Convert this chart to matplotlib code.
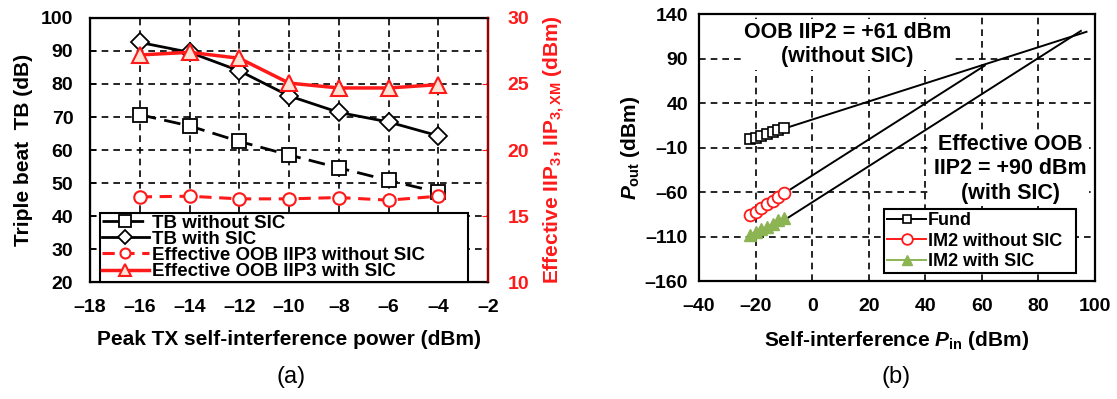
import numpy as np
import matplotlib
matplotlib.use('Agg')
import matplotlib.pyplot as plt

plt.rcParams['font.family'] = ['Liberation Sans', 'DejaVu Sans']
plt.rcParams['font.weight'] = 'bold'
plt.rcParams['axes.labelweight'] = 'bold'
plt.rcParams['mathtext.fontset'] = 'custom'
plt.rcParams['mathtext.rm'] = 'Liberation Sans:bold'
plt.rcParams['mathtext.it'] = 'Liberation Sans:italic:bold'
plt.rcParams['mathtext.bf'] = 'Liberation Sans:bold'
plt.rcParams['mathtext.default'] = 'rm'

# ---- panel (a) data ----
tx_power = [-16, -14, -12, -10, -8, -6, -4]
tb_without_sic = [70.7, 67.3, 62.6, 58.5, 54.6, 50.8, 47.2]
tb_with_sic = [92.6, 89.6, 84.0, 76.4, 71.4, 68.5, 64.3]
iip3_without_sic = [16.45, 16.5, 16.3, 16.3, 16.4, 16.2, 16.5]
iip3_with_sic = [27.2, 27.4, 26.95, 25.07, 24.7, 24.7, 24.95]

# ---- panel (b) data ----
pin = [-22, -20, -18, -16, -14, -12, -10]
fund = [-1, 1, 3, 5, 7.5, 9.5, 12]
im2_without_sic = [-86, -82, -78, -74, -70, -65.5, -61]
im2_with_sic = [-108, -105, -102, -99, -96, -92, -89]
# extrapolated fit lines (end points)
fund_fit_x, fund_fit_y = [-22, 97], [-1, 120]
im2_wo_fit_x, im2_wo_fit_y = [-22, 61], [-86, 82]
im2_w_fit_x, im2_w_fit_y = [-15.5, 95], [-103, 121]

RED = '#ff1a1a'
GREEN = '#8cb453'
TRI_FILL = '#fde3d3'
grid_kw = dict(color='black', linestyle=(0, (4, 3)), linewidth=1.2)

fig = plt.figure(figsize=(11.17, 3.99), dpi=100)

# ================= (a) =================
ax1 = fig.add_axes([0.0806, 0.2932, 0.3563, 0.6617])
ax1.plot(tx_power, tb_without_sic, color='black', lw=2, linestyle=(0, (6, 3)),
         marker='s', ms=10, mfc='white', mec='black', mew=1.3, label='TB without SIC')
ax1.plot(tx_power, tb_with_sic, color='black', lw=2,
         marker='D', ms=9, mfc='white', mec='black', mew=1.3, label='TB with SIC')
ax1.set_xlim(-18, -2)
ax1.set_ylim(20, 100)
ax1.set_xticks(np.arange(-18, -1, 2))
ax1.set_yticks(np.arange(20, 101, 10))
ax1.set_xticklabels(['\u201318', '\u201316', '\u201314', '\u201312', '\u201310',
                     '\u20138', '\u20136', '\u20134', '\u20132'])
for v in range(-16, -3, 2):
    ax1.axvline(v, **grid_kw, zorder=0.5)
for v in range(30, 100, 10):
    ax1.axhline(v, **grid_kw, zorder=0.5)
ax1.tick_params(axis='both', labelsize=14, direction='in', length=4, width=1.2)
ax1.tick_params(axis='x', length=0, pad=12)
ax1.tick_params(axis='y', pad=12)
for s in ax1.spines.values():
    s.set_linewidth(1.6)
ax1.set_xlabel('Peak TX self-interference power (dBm)', fontsize=15, labelpad=10)
ax1.set_ylabel('Triple beat  TB (dB)', fontsize=15, labelpad=6)

ax1r = ax1.twinx()
ax1r.plot(tx_power, iip3_without_sic, color=RED, lw=2.2, linestyle=(0, (4, 2.5)),
          marker='o', ms=9, mfc='white', mec=RED, mew=1.5,
          label='Effective OOB IIP3 without SIC')
ax1r.plot(tx_power, iip3_with_sic, color=RED, lw=2.5,
          marker='^', ms=11, mfc=TRI_FILL, mec=RED, mew=1.5,
          label='Effective OOB IIP3 with SIC')
ax1r.set_ylim(10, 30)
ax1r.set_yticks([10, 15, 20, 25, 30])
ax1r.tick_params(axis='y', labelsize=14, colors=RED, direction='in', length=4, pad=14)
ax1r.spines['right'].set_color('#a00000')
ax1r.spines['right'].set_linewidth(1.6)
ax1r.set_ylabel('Effective IIP$_3$, IIP$_{3,\\mathrm{XM}}$ (dBm)', fontsize=15,
                color=RED, labelpad=9)

h1, l1 = ax1.get_legend_handles_labels()
h2, l2 = ax1r.get_legend_handles_labels()
leg = ax1r.legend(h1 + h2, l1 + l2, loc='lower left', bbox_to_anchor=(0.025, 0.0, 0.925, 0.285),
                  mode='expand', borderaxespad=0, fontsize=13.5, handlelength=2.5,
                  labelspacing=-0.05, borderpad=0.1, handletextpad=0.2, fancybox=False,
                  framealpha=1, edgecolor='black', markerscale=0.8)
leg.get_frame().set_linewidth(1.5)

fig.text(0.261, 0.055, '(a)', ha='center', va='center', fontsize=17, fontweight='normal')

# ================= (b) =================
ax2 = fig.add_axes([0.6258, 0.2957, 0.3545, 0.6692])
ax2.plot(fund_fit_x, fund_fit_y, color='black', lw=1.4, zorder=2)
ax2.plot(im2_wo_fit_x, im2_wo_fit_y, color='black', lw=1.4, zorder=2)
ax2.plot(im2_w_fit_x, im2_w_fit_y, color='black', lw=1.4, zorder=2)
ax2.plot(pin, fund, color='black', lw=1.4, marker='s', ms=7, mfc='white',
         mec='black', mew=1.2, label='Fund', zorder=3)
ax2.plot(pin, im2_without_sic, color=RED, lw=1.4, marker='o', ms=8.5, mfc='white',
         mec=RED, mew=1.3, label='IM2 without SIC', zorder=3)
ax2.plot(pin, im2_with_sic, color=GREEN, lw=1.4, marker='^', ms=8, mfc=GREEN,
         mec=GREEN, label='IM2 with SIC', zorder=3)
ax2.set_xlim(-40, 100)
ax2.set_ylim(-160, 140)
ax2.set_xticks(np.arange(-40, 101, 20))
ax2.set_yticks(np.arange(-160, 141, 50))
ax2.set_xticklabels(['\u201340', '\u201320', '0', '20', '40', '60', '80', '100'])
ax2.set_yticklabels(['\u2013160', '\u2013110', '\u201360', '\u201310', '40', '90', '140'])
for v in range(-20, 81, 20):
    ax2.axvline(v, **grid_kw, zorder=0.5)
for v in range(-110, 91, 50):
    ax2.axhline(v, **grid_kw, zorder=0.5)
ax2.tick_params(axis='both', labelsize=14, length=0)
ax2.tick_params(axis='x', pad=12)
ax2.tick_params(axis='y', pad=8)
for s in ax2.spines.values():
    s.set_linewidth(1.6)
ax2.set_xlabel('Self-interference $\\mathit{P}_{\\mathrm{in}}$ (dBm)', fontsize=15, labelpad=10)
ax2.set_ylabel('$\\mathit{P}_{\\mathrm{out}}$ (dBm)', fontsize=15, labelpad=2)

box = dict(facecolor='white', edgecolor='none', pad=2)
ax2.text(12.5, 106, 'OOB IIP2 = +61 dBm\n(without SIC)', ha='center', va='center',
         fontsize=15.5, linespacing=1.2, bbox=box, zorder=4)
ax2.text(70, -34, 'Effective OOB\nIIP2 = +90 dBm\n(with SIC)', ha='center', va='center',
         fontsize=15.5, linespacing=1.2, bbox=box, zorder=4)

leg2 = ax2.legend(loc='lower left', bbox_to_anchor=(0.467, 0.03, 0.485, 0.228),
                  mode='expand', borderaxespad=0, fontsize=13, handlelength=2.2,
                  labelspacing=0.2, borderpad=0.15, handletextpad=0.1, fancybox=False,
                  framealpha=1, edgecolor='black', markerscale=0.9)
leg2.get_frame().set_linewidth(1.5)
leg2.set_zorder(5)

fig.text(0.802, 0.055, '(b)', ha='center', va='center', fontsize=17, fontweight='normal')

fig.savefig('out.png', dpi=100)
